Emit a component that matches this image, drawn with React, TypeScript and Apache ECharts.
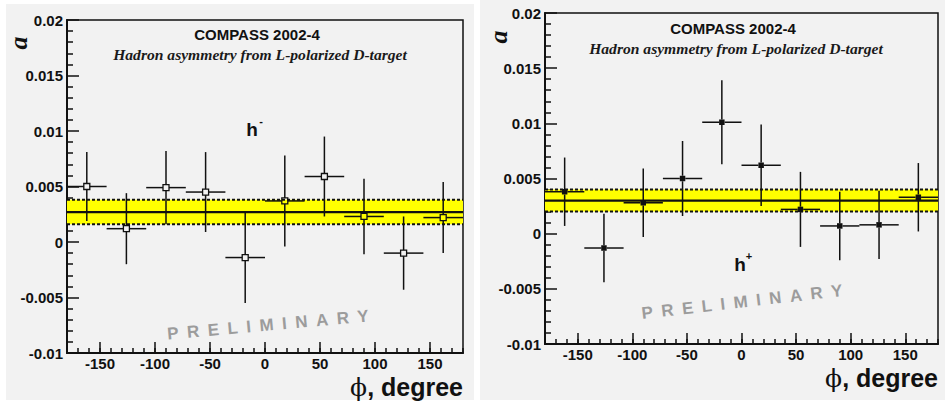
import React, { useEffect, useRef } from "react";
import * as echarts from "echarts";

// ---------------- data ----------------
const PHI_BINS = [-162, -126, -90, -54, -18, 18, 54, 90, 126, 162];
const BIN_HALF_WIDTH = 18;
const H_MINUS_A = [0.005, 0.0012, 0.0049, 0.0045, -0.0014, 0.0037, 0.0059, 0.0023, -0.001, 0.0022];
const H_MINUS_ERR = [0.0031, 0.0032, 0.0033, 0.0036, 0.0041, 0.0041, 0.0036, 0.0034, 0.0033, 0.0032];
const H_PLUS_A = [0.0038, -0.0013, 0.0028, 0.005, 0.0101, 0.0062, 0.0022, 0.0007, 0.0008, 0.0033];
const H_PLUS_ERR = [0.0031, 0.0031, 0.0031, 0.0034, 0.0038, 0.0037, 0.0034, 0.0031, 0.0031, 0.0031];
// [low, high, mean]
const H_MINUS_BAND = [0.0016, 0.0038, 0.0027];
const H_PLUS_BAND = [0.002, 0.004, 0.003];
const X_MIN = -180;
const X_MAX = 180;
const Y_MIN = -0.01;
const Y_MAX = 0.02;
const X_MAJOR_TICKS = [-150, -100, -50, 0, 50, 100, 150];
const TITLE = "COMPASS 2002-4";
const SUBTITLE = "Hadron asymmetry from L-polarized D-target";
const WATERMARK = "P\u2002R\u2002E\u2002L\u2002I\u2002M\u2002I\u2002N\u2002A\u2002R\u2002Y";

const SANS = '"Liberation Sans", Arial, sans-serif';
const SERIF = '"Liberation Serif", "Times New Roman", serif';
const INK = "#111";
const PANEL_BG = "#f2f2f2";

function errorBarSeries(xAxisIndex: number, yAxisIndex: number, ys: number[], errs: number[], filled: boolean) {
  return {
    type: "custom",
    xAxisIndex,
    yAxisIndex,
    z: 5,
    clip: false,
    data: PHI_BINS.map((x, i) => [x, ys[i], errs[i]]),
    renderItem: (_p: any, api: any) => {
      const x = api.value(0);
      const y = api.value(1);
      const e = api.value(2);
      const c = api.coord([x, y]);
      const t = api.coord([x, y + e]);
      const b = api.coord([x, y - e]);
      const l = api.coord([x - BIN_HALF_WIDTH, y]);
      const r = api.coord([x + BIN_HALF_WIDTH, y]);
      const s = filled ? 5.5 : 6;
      const g = s / 2;
      const ls = { stroke: INK, lineWidth: 1.5 };
      return {
        type: "group",
        children: [
          { type: "line", shape: { x1: t[0], y1: t[1], x2: c[0], y2: c[1] - g }, style: ls },
          { type: "line", shape: { x1: c[0], y1: c[1] + g, x2: b[0], y2: b[1] }, style: ls },
          { type: "line", shape: { x1: l[0], y1: l[1], x2: c[0] - g, y2: c[1] }, style: ls },
          { type: "line", shape: { x1: c[0] + g, y1: c[1], x2: r[0], y2: r[1] }, style: ls },
          {
            type: "rect",
            shape: { x: c[0] - g, y: c[1] - g, width: s, height: s },
            style: filled ? { fill: INK } : { fill: "none", stroke: INK, lineWidth: 1.3 },
          },
        ],
      };
    },
  };
}

function bandSeries(xAxisIndex: number, yAxisIndex: number, band: number[]) {
  return {
    type: "custom",
    xAxisIndex,
    yAxisIndex,
    z: 3,
    encode: { x: -1, y: [0, 1, 2] },
    data: [band],
    renderItem: (_p: any, api: any) => {
      const lo = api.value(0);
      const hi = api.value(1);
      const me = api.value(2);
      const a = api.coord([X_MIN, hi]);
      const b = api.coord([X_MAX, lo]);
      const m0 = api.coord([X_MIN, me]);
      const m1 = api.coord([X_MAX, me]);
      const dash = { stroke: INK, lineWidth: 2, lineDash: [3, 2] };
      return {
        type: "group",
        children: [
          { type: "rect", shape: { x: a[0], y: a[1], width: b[0] - a[0], height: b[1] - a[1] }, style: { fill: "#ffff00" } },
          { type: "line", shape: { x1: a[0], y1: a[1], x2: b[0], y2: a[1] }, style: dash },
          { type: "line", shape: { x1: a[0], y1: b[1], x2: b[0], y2: b[1] }, style: dash },
          { type: "line", shape: { x1: m0[0], y1: m0[1], x2: m1[0], y2: m1[1] }, style: { stroke: INK, lineWidth: 2.2 } },
        ],
      };
    },
  };
}

const labelStyle = { color: INK, fontFamily: SANS, fontWeight: "bold" as const, fontSize: 15 };

function xAxes(gridIndex: number) {
  return [
    {
      type: "value",
      gridIndex,
      position: "bottom",
      min: X_MIN,
      max: X_MAX,
      axisLine: { show: true, onZero: false, lineStyle: { color: INK, width: 2 } },
      axisTick: { show: true, inside: true, length: 11, customValues: X_MAJOR_TICKS, lineStyle: { color: INK, width: 1.5 } },
      axisLabel: { show: true, customValues: X_MAJOR_TICKS, margin: 3, lineHeight: 14, ...labelStyle },
      splitLine: { show: false },
    },
    {
      type: "value",
      gridIndex,
      position: "bottom",
      offset: 0,
      min: X_MIN,
      max: X_MAX,
      interval: 10,
      axisLine: { show: false, onZero: false },
      axisTick: { show: true, inside: true, length: 5, lineStyle: { color: INK, width: 1.5 } },
      axisLabel: { show: false },
      splitLine: { show: false },
    },
  ];
}

function yAxis(gridIndex: number) {
  return {
    type: "value",
    gridIndex,
    min: Y_MIN,
    max: Y_MAX,
    interval: 0.005,
    axisLine: { show: true, onZero: false, lineStyle: { color: INK, width: 2 } },
    axisTick: { show: true, inside: true, length: 12, lineStyle: { color: INK, width: 1.5 } },
    minorTick: { show: true, splitNumber: 5, length: 6, lineStyle: { color: INK, width: 1.5 } },
    axisLabel: {
      show: true,
      margin: 4,
      showMinLabel: true,
      showMaxLabel: true,
      formatter: (v: number) => String(parseFloat(v.toFixed(4))),
      ...labelStyle,
    },
    splitLine: { show: false },
  };
}

function panelTexts(o: {
  cx: number; titleY: number; subY: number; aX: number; aY: number;
  hX: number; hY: number; sign: string; xTitleX: number; xTitleY: number;
  wmX: number; wmY: number; wmRot: number;
}) {
  return [
    { type: "text", x: o.cx, y: o.titleY, z: 100, style: { text: TITLE, font: `bold 15px ${SANS}`, fill: INK, align: "center", verticalAlign: "middle" } },
    { type: "text", x: o.cx + 3, y: o.subY, z: 100, style: { text: SUBTITLE, font: `italic bold 15.6px ${SERIF}`, fill: "#1a1a1a", align: "center", verticalAlign: "middle" } },
    { type: "text", x: o.aX, y: o.aY, rotation: Math.PI / 2, z: 100, style: { text: "a", font: `italic bold 26px ${SERIF}`, fill: INK, align: "center", verticalAlign: "middle" } },
    { type: "text", x: o.hX, y: o.hY, z: 100, style: { text: "h", font: `bold 19px ${SANS}`, fill: INK, align: "center", verticalAlign: "middle" } },
    { type: "text", x: o.hX + 9, y: o.hY - 8, z: 100, style: { text: o.sign, font: `bold 11px ${SANS}`, fill: INK, align: "center", verticalAlign: "middle" } },
    {
      type: "text", x: o.xTitleX, y: o.xTitleY, z: 100,
      style: {
        text: "{p|\u03d5}{d|, degree}",
        align: "right",
        verticalAlign: "middle",
        rich: {
          p: { font: `normal 25px "DejaVu Serif", ${SERIF}`, fill: INK, lineHeight: 24 },
          d: { font: `bold 25px ${SANS}`, fill: INK, lineHeight: 24 },
        },
      },
    },
    { type: "text", x: o.wmX, y: o.wmY, rotation: o.wmRot, z: 100, style: { text: WATERMARK, font: `bold 17px ${SANS}`, fill: "#9c9c9c", align: "center", verticalAlign: "middle" } },
  ];
}

export default function App() {
  const ref = useRef<HTMLDivElement>(null);
  useEffect(() => {
    document.body.style.margin = "0";
    if (!ref.current) return;
    const chart = echarts.init(ref.current, null, { renderer: "svg" });
    chart.setOption({
      animation: false,
      backgroundColor: "transparent",
      grid: [
        { left: 67, top: 20, width: 396, height: 333, show: true, borderColor: INK, borderWidth: 1.5, backgroundColor: PANEL_BG },
        { left: 545, top: 13, width: 393, height: 331, show: true, borderColor: INK, borderWidth: 1.5, backgroundColor: PANEL_BG },
      ],
      xAxis: [...xAxes(0), ...xAxes(1)],
      yAxis: [yAxis(0), yAxis(1)],
      series: [
        bandSeries(0, 0, H_MINUS_BAND),
        errorBarSeries(0, 0, H_MINUS_A, H_MINUS_ERR, false),
        bandSeries(2, 1, H_PLUS_BAND),
        errorBarSeries(2, 1, H_PLUS_A, H_PLUS_ERR, true),
      ],
      graphic: [
        ...panelTexts({
          cx: 257, titleY: 34, subY: 54, aX: 18, aY: 43, hX: 252, hY: 129, sign: "-",
          xTitleX: 463, xTitleY: 387, wmX: 268, wmY: 325, wmRot: 0.09,
        }),
        ...panelTexts({
          cx: 733, titleY: 28, subY: 48, aX: 498, aY: 37, hX: 740, hY: 264, sign: "+",
          xTitleX: 938, xTitleY: 378, wmX: 742, wmY: 302, wmRot: 0.115,
        }),
      ],
    });
    return () => chart.dispose();
  }, []);
  return (
    <div style={{ position: "relative", width: 945, height: 405, background: "#fff", overflow: "hidden" }}>
      <div style={{ position: "absolute", left: 6, top: 4, width: 468, height: 396, background: PANEL_BG }} />
      <div style={{ position: "absolute", left: 480, top: 0, width: 465, height: 400, background: PANEL_BG }} />
      <div ref={ref} style={{ position: "absolute", left: 0, top: 0, width: 945, height: 405 }} />
    </div>
  );
}
